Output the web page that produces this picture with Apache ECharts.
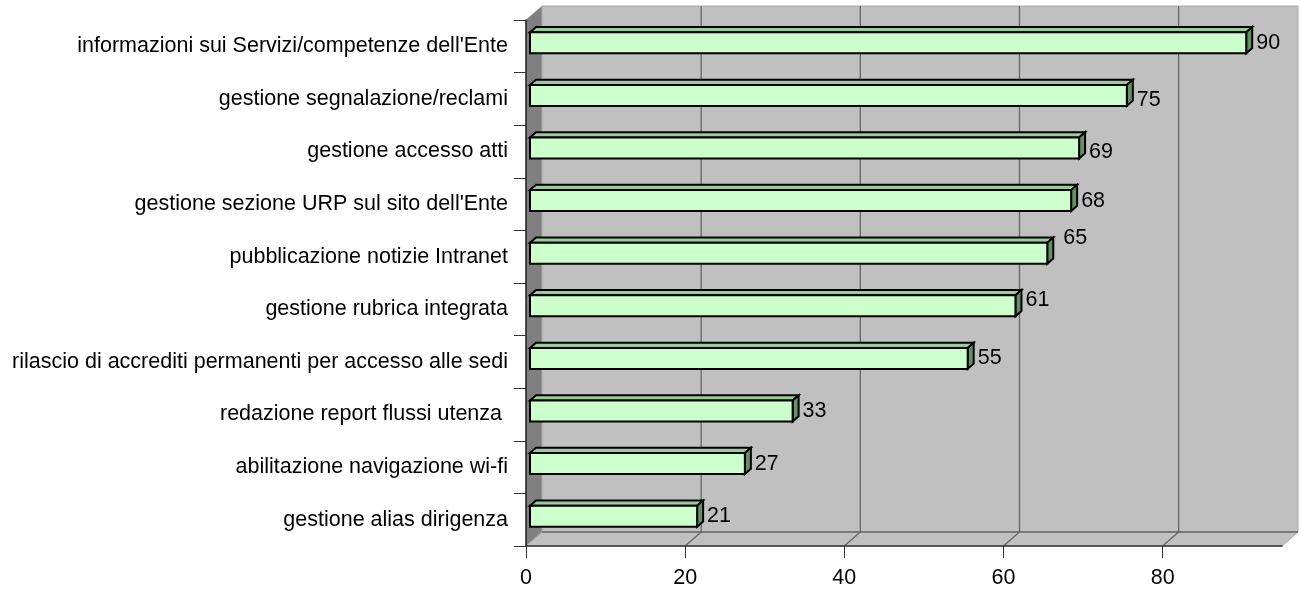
<!DOCTYPE html>
<html>
<head>
<meta charset="utf-8">
<script src="https://cdn.jsdelivr.net/npm/echarts@6/dist/echarts.min.js"></script>
<style>
  html, body { margin: 0; padding: 0; background: #ffffff; }
  #chart { width: 1302px; height: 589px; }
</style>
</head>
<body>
<div id="chart"></div>
<script>
// Servizi URP: numero di enti che offrono ciascun servizio
const categories = [
  "informazioni sui Servizi/competenze dell'Ente",
  "gestione segnalazione/reclami",
  "gestione accesso atti",
  "gestione sezione URP sul sito dell'Ente",
  "pubblicazione notizie Intranet",
  "gestione rubrica integrata",
  "rilascio di accrediti permanenti per accesso alle sedi",
  "redazione report flussi utenza ",
  "abilitazione navigazione wi-fi",
  "gestione alias dirigenza"
];
const values = [90, 75, 69, 68, 65, 61, 55, 33, 27, 21];
const tickValues = [0, 20, 40, 60, 80];
const axisMax = 95;

const FONT = "'Liberation Sans', Arial, sans-serif";
const FONT_SIZE = 21.5;
// projection of the chart depth (back wall offset) in pixels
const DEPTH = [16, -14];
// bars sit between 25% and 62.5% of the depth
const BAR_FRONT = 0.25;
const BAR_DEPTH = 0.375;
// small vertical/horizontal shifts for crowded value labels
const labelShift = { 1: [0, 5], 2: [0, 4], 4: [6, -15], 5: [0, -6] };

const chart = echarts.init(document.getElementById('chart'), null, { renderer: 'canvas' });

function renderWalls(params, api) {
  const cs = params.coordSys;
  const x0 = cs.x, yTop = cs.y, yBot = cs.y + cs.height;
  const xEnd = api.coord([axisMax, 0])[0];
  const dx = DEPTH[0], dy = DEPTH[1];
  const children = [
    { type: 'polygon', shape: { points: [[x0, yTop], [x0 + dx, yTop + dy], [x0 + dx, yBot + dy], [x0, yBot]] },
      style: { fill: '#808080', stroke: '#808080', lineWidth: 0.5 } },
    { type: 'rect', shape: { x: x0 + dx, y: yTop + dy, width: xEnd - x0, height: yBot - yTop },
      style: { fill: '#c0c0c0', stroke: '#a8a8a8', lineWidth: 1 } },
    { type: 'polygon', shape: { points: [[x0, yBot], [xEnd, yBot], [xEnd + dx, yBot + dy], [x0 + dx, yBot + dy]] },
      style: { fill: '#c0c0c0', stroke: '#a8a8a8', lineWidth: 1 } },
    { type: 'line', shape: { x1: x0 + dx, y1: yBot + dy, x2: xEnd + dx, y2: yBot + dy },
      style: { stroke: '#666666', lineWidth: 1.3 } }
  ];
  tickValues.forEach(function (t) {
    if (t === 0) return;
    const x = api.coord([t, 0])[0];
    children.push({ type: 'polyline',
      shape: { points: [[x, yBot], [x + dx, yBot + dy], [x + dx, yTop + dy]] },
      style: { stroke: '#666666', lineWidth: 1.3, fill: null } });
  });
  return { type: 'group', children: children };
}

function renderBar(params, api) {
  const v = api.value(0);
  const idx = api.value(1);
  const p0 = api.coord([0, idx]);
  const p1 = api.coord([v, idx]);
  const band = api.size([0, 1])[1];
  const h = band * 0.4;
  const fx = DEPTH[0] * BAR_FRONT, fy = DEPTH[1] * BAR_FRONT;
  const ddx = DEPTH[0] * BAR_DEPTH, ddy = DEPTH[1] * BAR_DEPTH;
  const xl = p0[0] + fx, xr = p1[0] + fx;
  const yc = p0[1] + fy;
  const yt = yc - h / 2, yb = yc + h / 2;
  const edge = { stroke: '#000000', lineWidth: 2, lineJoin: 'miter' };
  const shift = labelShift[idx] || [0, 0];
  return {
    type: 'group',
    children: [
      { type: 'polygon', shape: { points: [[xl, yt], [xr, yt], [xr + ddx, yt + ddy], [xl + ddx, yt + ddy]] },
        style: Object.assign({ fill: '#99cc99' }, edge) },
      { type: 'polygon', shape: { points: [[xr, yt], [xr + ddx, yt + ddy], [xr + ddx, yb + ddy], [xr, yb]] },
        style: Object.assign({ fill: '#668f66' }, edge) },
      { type: 'rect', shape: { x: xl, y: yt, width: xr - xl, height: h },
        style: Object.assign({ fill: '#ccffcc' }, edge) },
      { type: 'text', x: xr + ddx + 4 + shift[0], y: yc + shift[1],
        style: { text: String(v), fill: '#000000', font: FONT_SIZE + 'px ' + FONT,
                 align: 'left', verticalAlign: 'middle' } }
    ]
  };
}

chart.setOption({
  backgroundColor: '#ffffff',
  animation: false,
  grid: { left: 526, right: 20, top: 20, bottom: 43, containLabel: false },
  xAxis: {
    type: 'value', min: 0, max: axisMax, interval: 20, z: 10,
    axisLine: { show: true, lineStyle: { color: '#333333', width: 1.5 } },
    axisTick: { show: true, length: 12, customValues: tickValues, lineStyle: { color: '#333333', width: 1 } },
    axisLabel: { customValues: tickValues, margin: 21, color: '#000000', fontSize: FONT_SIZE, fontFamily: FONT },
    splitLine: { show: false }
  },
  yAxis: {
    type: 'category', data: categories, inverse: true, z: 10,
    axisLine: { show: true, lineStyle: { color: '#222222', width: 1.5 } },
    axisTick: { show: true, length: 12, alignWithLabel: false, lineStyle: { color: '#333333', width: 1 } },
    axisLabel: { margin: 18, color: '#000000', fontSize: FONT_SIZE, fontFamily: FONT },
    splitLine: { show: false }
  },
  series: [
    { type: 'custom', renderItem: renderWalls, data: [[0, 0]], z: 1, silent: true },
    { type: 'custom', renderItem: renderBar, z: 5,
      encode: { x: 0, y: 1 },
      data: values.map(function (v, i) { return [v, i]; }) }
  ]
});
</script>
</body>
</html>
